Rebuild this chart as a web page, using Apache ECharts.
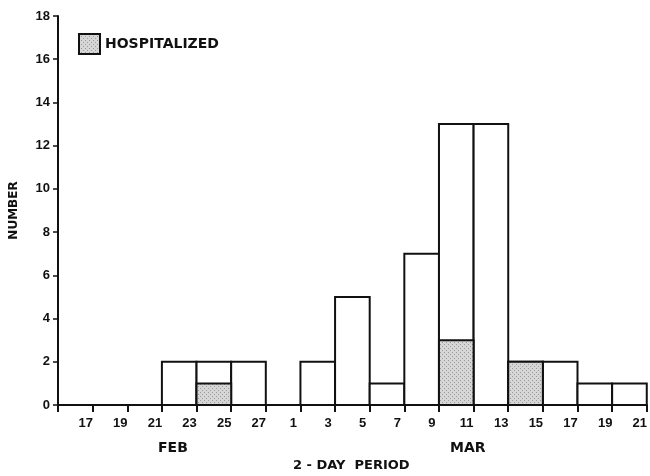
<!DOCTYPE html>
<html>
<head>
<meta charset="utf-8">
<script src="https://cdn.jsdelivr.net/npm/echarts@6/dist/echarts.min.js"></script>
<style>html,body{margin:0;padding:0;background:#fff;}#c{width:650px;height:476px;}</style>
</head>
<body>
<div id="c"></div>
<script>
// 2-day periods, starting Feb 15 through Mar 19
var periods = ['Feb 15','Feb 17','Feb 19','Feb 21','Feb 23','Feb 25','Feb 27','Mar 1','Mar 3','Mar 5','Mar 7','Mar 9','Mar 11','Mar 13','Mar 15','Mar 17','Mar 19'];
var totalCases = [0,0,0,2,2,2,0,2,5,1,7,13,13,2,2,1,1];
var hospitalized = [0,0,0,0,1,0,0,0,0,0,0,3,0,2,0,0,0];
// labels at period boundaries (index 0 = axis origin)
var tickLabels = ['','17','19','21','23','25','27','1','3','5','7','9','11','13','15','17','19','21'];
var yTicks = [0,2,4,6,8,10,12,14,16,18];

// stipple pattern for hospitalized fill
var pc = document.createElement('canvas');
pc.width = 4; pc.height = 4;
var pctx = pc.getContext('2d');
pctx.fillStyle = '#d6d6d6'; pctx.fillRect(0,0,4,4);
pctx.fillStyle = '#9a9a9a'; pctx.fillRect(0,0,1,1); pctx.fillRect(2,2,1,1);
var stipple = {image: pc, repeat: 'repeat'};

var totalData = [], hospData = [];
periods.forEach(function(p, i){
  if (totalCases[i] > 0) totalData.push([i, 0, totalCases[i]]);
  if (hospitalized[i] > 0) hospData.push([i, 0, hospitalized[i]]);
});

function renderRect(fill){
  return function(params, api){
    var i = api.value(0);
    var lo = api.coord([i, api.value(1)]);
    var hi = api.coord([i, api.value(2)]);
    var w = api.size([1, 0])[0];
    return {
      type: 'rect',
      shape: {x: lo[0] - w/2, y: hi[1], width: w, height: lo[1] - hi[1]},
      style: {fill: fill, stroke: '#111', lineWidth: 2}
    };
  };
}

var chart = echarts.init(document.getElementById('c'), null, {renderer:'canvas'});
var font = 'Liberation Sans';
var dj = 'DejaVu Sans';
chart.setOption({
  animation: false,
  backgroundColor: '#fff',
  grid: {left: 58, top: 16, right: -2, bottom: 71, containLabel: false},
  legend: {
    left: 73, top: 28, itemWidth: 21, itemHeight: 20, itemGap: 8,
    icon: 'rect',
    data: ['HOSPITALIZED'],
    itemStyle: {color: stipple, borderColor: '#111', borderWidth: 2},
    textStyle: {fontFamily: dj, fontWeight: 'bold', fontSize: 14, color: '#111'}
  },
  xAxis: [
    {type: 'category', data: periods, boundaryGap: true,
     axisLine: {show: true, lineStyle: {color: '#111', width: 2}},
     axisTick: {show: false}, axisLabel: {show: false}, splitLine: {show: false}},
    {type: 'value', min: 0, max: 17, interval: 1, position: 'bottom',
     axisLine: {show: false},
     axisTick: {show: true, length: 7, lineStyle: {color: '#111', width: 2}},
     axisLabel: {show: true, margin: 12, padding: [0, 14, 0, 0],
       fontFamily: font, fontWeight: 'bold', fontSize: 13, color: '#111',
       formatter: function(v){ return tickLabels[Math.round(v)] || ''; }},
     splitLine: {show: false}}
  ],
  yAxis: {
    type: 'value', min: yTicks[0], max: yTicks[yTicks.length-1], interval: 2,
    name: 'NUMBER', nameLocation: 'middle', nameGap: 38, nameRotate: 90,
    nameTextStyle: {fontFamily: dj, fontWeight: 'bold', fontSize: 12, color: '#111'},
    axisLine: {show: true, lineStyle: {color: '#111', width: 2}},
    axisTick: {show: true, length: 5, lineStyle: {color: '#111', width: 1.5}},
    axisLabel: {margin: 8, fontFamily: font, fontWeight: 'bold', fontSize: 13, color: '#111'},
    splitLine: {show: false}
  },
  graphic: [
    {type: 'text', left: 158, top: 441, style: {text: 'FEB', font: 'bold 14px "DejaVu Sans"', fill: '#111'}},
    {type: 'text', left: 450, top: 441, style: {text: 'MAR', font: 'bold 14px "DejaVu Sans"', fill: '#111'}},
    {type: 'text', left: 293, top: 459, style: {text: '2 - DAY  PERIOD', font: 'bold 13px "DejaVu Sans"', fill: '#111'}}
  ],
  series: [
    {name: 'ALL', type: 'custom', xAxisIndex: 0, data: totalData,
     renderItem: renderRect('#fff'), encode: {x: 0, y: [1, 2]}},
    {name: 'HOSPITALIZED', type: 'custom', xAxisIndex: 0, data: hospData,
     itemStyle: {color: stipple, borderColor: '#111', borderWidth: 2},
     renderItem: renderRect(stipple), encode: {x: 0, y: [1, 2]}}
  ]
});
</script>
</body>
</html>
